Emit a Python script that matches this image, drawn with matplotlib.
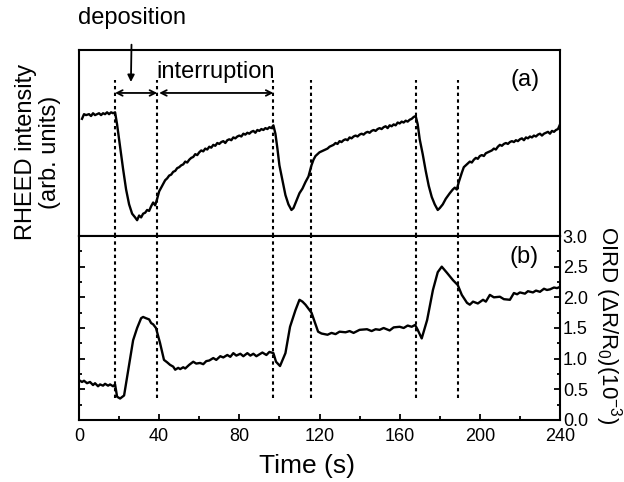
import matplotlib
matplotlib.use("Agg")
import matplotlib.pyplot as plt
from matplotlib.ticker import MultipleLocator

plt.rcParams['font.family'] = ['Liberation Sans', 'DejaVu Sans']
plt.rcParams['mathtext.default'] = 'regular'

# ---- data: panel (a) RHEED intensity (arb. units) ----
rheed_t1 = [1.5, 2.5, 3.5, 5, 6, 7, 8, 9, 10, 11, 12, 13, 14, 15, 16, 17, 18]
rheed_v1 = [0.63, 0.655, 0.65, 0.655, 0.645, 0.66, 0.65, 0.655, 0.66, 0.65, 0.66, 0.655, 0.665,
            0.655, 0.665, 0.66, 0.665]
rheed_t2 = [19, 20.5, 22, 23.5, 25, 26.5, 28, 29, 30, 31, 32, 33, 34, 35, 36, 37, 38, 39]
rheed_v2 = [0.60, 0.48, 0.36, 0.25, 0.17, 0.12, 0.10, 0.085, 0.11, 0.10, 0.12, 0.125, 0.14,
            0.135, 0.16, 0.18, 0.165, 0.20]
rheed_t3 = list(range(40, 98))
rheed_v3 = [0.24, 0.26, 0.28, 0.30, 0.31, 0.325, 0.33, 0.345, 0.35, 0.365,
            0.37, 0.38, 0.385, 0.40, 0.395, 0.41, 0.42, 0.425, 0.44, 0.435,
            0.45, 0.46, 0.455, 0.47, 0.465, 0.48, 0.475, 0.49, 0.485, 0.50,
            0.495, 0.505, 0.51, 0.50, 0.515, 0.52, 0.515, 0.53, 0.525, 0.535,
            0.54, 0.535, 0.55, 0.545, 0.555, 0.55, 0.56, 0.565, 0.555, 0.57,
            0.565, 0.575, 0.57, 0.58, 0.575, 0.585, 0.58, 0.595]
rheed_t4 = [98, 99, 100, 101.5, 103, 104.5, 106, 107, 108.5, 110, 111.5, 113, 114.5, 116]
rheed_v4 = [0.55, 0.47, 0.38, 0.30, 0.22, 0.17, 0.14, 0.15, 0.19, 0.23, 0.255, 0.29, 0.32, 0.38]
rheed_t5 = list(range(117, 169))
rheed_v5 = [0.41, 0.43, 0.44, 0.45, 0.455, 0.46, 0.465, 0.47, 0.48, 0.485,
            0.49, 0.50, 0.495, 0.51, 0.505, 0.515, 0.52, 0.515, 0.53, 0.525,
            0.535, 0.54, 0.535, 0.545, 0.55, 0.545, 0.555, 0.56, 0.555, 0.565,
            0.57, 0.565, 0.575, 0.58, 0.575, 0.585, 0.59, 0.58, 0.595, 0.59,
            0.60, 0.595, 0.61, 0.605, 0.615, 0.61, 0.62, 0.615, 0.625, 0.63,
            0.64, 0.645]
rheed_t6 = [169, 170, 171.5, 173, 174.5, 176, 177.5, 179, 180, 181.5, 183, 184, 185, 186.5,
            187.5, 188.5, 189.5, 191]
rheed_v6 = [0.60, 0.52, 0.44, 0.35, 0.27, 0.21, 0.17, 0.14, 0.15, 0.17, 0.20, 0.215, 0.23,
            0.25, 0.26, 0.25, 0.29, 0.34]
rheed_t7 = list(range(192, 241))
rheed_v7 = [0.37, 0.38, 0.39, 0.40, 0.395, 0.41, 0.42, 0.415, 0.43, 0.435,
            0.43, 0.445, 0.45, 0.455, 0.46, 0.47, 0.465, 0.48, 0.49, 0.485,
            0.495, 0.50, 0.495, 0.505, 0.51, 0.505, 0.515, 0.51, 0.52, 0.525,
            0.515, 0.53, 0.525, 0.535, 0.53, 0.54, 0.535, 0.545, 0.55, 0.54,
            0.55, 0.555, 0.56, 0.55, 0.565, 0.56, 0.57, 0.575, 0.60]

rheed_t = rheed_t1 + rheed_t2 + rheed_t3 + rheed_t4 + rheed_t5 + rheed_t6 + rheed_t7
rheed_v = rheed_v1 + rheed_v2 + rheed_v3 + rheed_v4 + rheed_v5 + rheed_v6 + rheed_v7

# ---- data: panel (b) OIRD (dR/R0)(1e-3) ----
oird_t = [0, 1.5, 2.5, 4, 5.5, 7, 8, 9.5, 10.5, 12,
          13, 14.5, 15.5, 17, 18, 19, 20.5, 22.5, 24, 27,
          29, 31, 32, 33.4, 35, 36, 37, 38.4, 40.4, 42.4,
          44, 45.4, 47, 48, 49.5, 50.5, 52, 53, 55, 57,
          58.5, 60.4, 62, 63.5, 65, 67, 68.5, 70.5, 72, 74,
          75.5, 77, 78.5, 80.5, 82, 84, 85.5, 87, 88.5, 90,
          91.5, 93.5, 95, 97, 98.3, 100.3, 103, 105.3, 108, 110,
          111.5, 113, 116, 117.3, 119.3, 121, 124, 126, 128, 130,
          133, 135, 137, 140, 143.7, 146, 148, 150, 152, 155,
          157, 160, 162, 164, 166, 167.7, 169, 171, 173.7, 176.6,
          179, 181, 183.6, 186.6, 189, 191, 193.6, 195, 196.6, 199,
          201.6, 203, 205, 207, 210, 212, 215, 217, 218.6, 220,
          222.5, 224, 226.5, 228, 230, 232, 233.5, 235, 237, 238.5,
          240]
oird_v = [0.65, 0.62, 0.64, 0.60, 0.62, 0.57, 0.60, 0.55, 0.58, 0.56,
          0.59, 0.56, 0.58, 0.55, 0.58, 0.38, 0.35, 0.40, 0.70, 1.30,
          1.50, 1.66, 1.68, 1.66, 1.64, 1.58, 1.56, 1.50, 1.26, 0.98,
          0.94, 0.90, 0.87, 0.82, 0.85, 0.83, 0.86, 0.84, 0.90, 0.95,
          0.92, 0.93, 0.91, 0.96, 0.97, 1.01, 0.98, 1.04, 1.02, 1.06,
          1.03, 1.09, 1.05, 1.08, 1.04, 1.09, 1.05, 1.08, 1.04, 1.07,
          1.10, 1.06, 1.11, 1.09, 0.95, 0.88, 1.09, 1.52, 1.79, 1.96,
          1.93, 1.88, 1.75, 1.63, 1.44, 1.41, 1.39, 1.42, 1.40, 1.44,
          1.43, 1.45, 1.42, 1.47, 1.48, 1.45, 1.48, 1.47, 1.50, 1.46,
          1.51, 1.52, 1.50, 1.54, 1.52, 1.55, 1.47, 1.33, 1.63, 2.12,
          2.41, 2.50, 2.40, 2.28, 2.20, 2.04, 1.91, 1.88, 1.93, 1.90,
          1.96, 1.93, 2.04, 2.00, 2.01, 1.97, 1.96, 2.07, 2.05, 2.08,
          2.06, 2.10, 2.08, 2.11, 2.09, 2.14, 2.12, 2.13, 2.16, 2.15,
          2.17]

# markers of growth steps (s)
step_times = [18, 39, 97, 116, 168, 189]

fig = plt.figure(figsize=(6.24, 4.82), dpi=100)
L, R = 79 / 624, 560 / 624
ax_a = fig.add_axes([L, 1 - 236 / 482, R - L, 186 / 482])
ax_b = fig.add_axes([L, 1 - 420 / 482, R - L, 184 / 482], sharex=ax_a)

lw_data = 1.7
ax_a.plot(rheed_t, rheed_v, color='black', lw=lw_data)
ax_b.plot(oird_t, oird_v, color='black', lw=lw_data)

dash = (0, (1.6, 1.6))
for t in step_times:
    ax_a.plot([t, t], [0, 0.84], color='black', lw=1.5, linestyle=dash)
    ax_b.plot([t, t], [0.36, 3.0], color='black', lw=1.5, linestyle=dash)

ax_a.set_xlim(0, 240)
ax_a.set_ylim(0, 1)
ax_b.set_ylim(0, 3.0)

for ax in (ax_a, ax_b):
    for s in ax.spines.values():
        s.set_linewidth(1.5)

ax_a.tick_params(left=False, bottom=False, labelleft=False, labelbottom=False)

ax_b.xaxis.set_major_locator(MultipleLocator(40))
ax_b.xaxis.set_minor_locator(MultipleLocator(20))
ax_b.yaxis.set_major_locator(MultipleLocator(0.5))
ax_b.yaxis.set_minor_locator(MultipleLocator(0.25))
ax_b.tick_params(axis='x', which='both', direction='in', top=False, labelsize=13, width=1.3,
                 pad=6)
ax_b.tick_params(axis='x', which='major', length=4)
ax_b.tick_params(axis='x', which='minor', length=3)
ax_b.tick_params(axis='y', which='both', direction='in', left=True, right=True,
                 labelleft=False, labelright=True, labelsize=13, width=1.3, pad=2)
ax_b.tick_params(axis='y', which='major', length=4)
ax_b.tick_params(axis='y', which='minor', length=2.5)
ax_b.yaxis.set_major_formatter(plt.FuncFormatter(lambda v, p: f"{v:.1f}"))

# annotations
ax_a.annotate('', xy=(18, 0.769), xytext=(39, 0.769),
              arrowprops=dict(arrowstyle='<->', lw=1.3, color='black', shrinkA=0, shrinkB=0,
                              mutation_scale=10))
ax_a.annotate('', xy=(40, 0.769), xytext=(97, 0.769),
              arrowprops=dict(arrowstyle='<->', lw=1.3, color='black', shrinkA=0, shrinkB=0,
                              mutation_scale=10))
ax_a.text(68.4, 0.88, 'interruption', fontsize=17, ha='center', va='center')
ax_a.annotate('deposition', xy=(25.9, 0.828), xytext=(26.4, 1.17),
              fontsize=17, ha='center', va='center', annotation_clip=False,
              arrowprops=dict(arrowstyle='-|>', lw=1.3, color='black',
                              shrinkA=9, shrinkB=0, mutation_scale=10))
ax_a.text(222.5, 0.84, '(a)', fontsize=17, ha='center', va='center')
ax_b.text(222, 2.66, '(b)', fontsize=17, ha='center', va='center')

fig.text(38 / 624, 1 - 152 / 482, 'RHEED intensity\n(arb. units)', rotation=90,
         fontsize=17, ha='center', va='center', linespacing=1.15)
fig.text(608 / 624, 1 - 325 / 482, r'OIRD ($\Delta$R/R$_0$)(10$^{-3}$)', rotation=270,
         fontsize=16, ha='center', va='center')
fig.text(307 / 624, 1 - 466 / 482, 'Time (s)', fontsize=19, ha='center', va='center')

fig.savefig('out.png', dpi=100)
